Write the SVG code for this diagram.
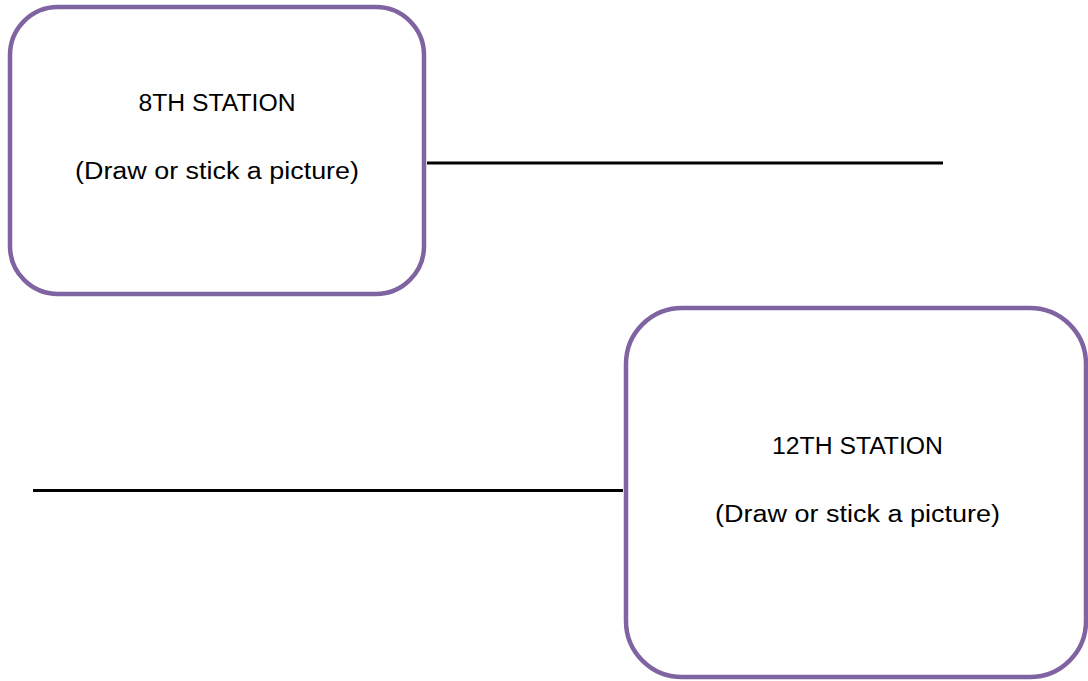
<svg xmlns="http://www.w3.org/2000/svg" width="1088" height="681" viewBox="0 0 1088 681">
<style>
.box{fill:#fff;stroke:#8064A2;stroke-width:4.5}
.t{font-family:"Liberation Sans",Arial,sans-serif;font-size:23px;fill:#000;text-anchor:middle}
.ln{stroke:#000;stroke-width:3}
</style>
<rect width="1088" height="681" fill="#fff"/>
<g id="station8">
<rect class="box" x="10" y="7" width="414" height="287" rx="48" ry="48"/>
<text class="t" x="217" y="111" textLength="157" lengthAdjust="spacingAndGlyphs">8TH STATION</text>
<text class="t" x="217" y="179" textLength="284" lengthAdjust="spacingAndGlyphs">(Draw or stick a picture)</text>
</g>
<g id="station12">
<rect class="box" x="626" y="308" width="460" height="369" rx="56" ry="56"/>
<text class="t" x="857.5" y="454" textLength="171" lengthAdjust="spacingAndGlyphs">12TH STATION</text>
<text class="t" x="857.5" y="522" textLength="285" lengthAdjust="spacingAndGlyphs">(Draw or stick a picture)</text>
</g>
<g id="connectors">
<line class="ln" x1="427" y1="163" x2="943" y2="163"/>
<line class="ln" x1="33" y1="490.5" x2="623" y2="490.5"/>
</g>
</svg>
